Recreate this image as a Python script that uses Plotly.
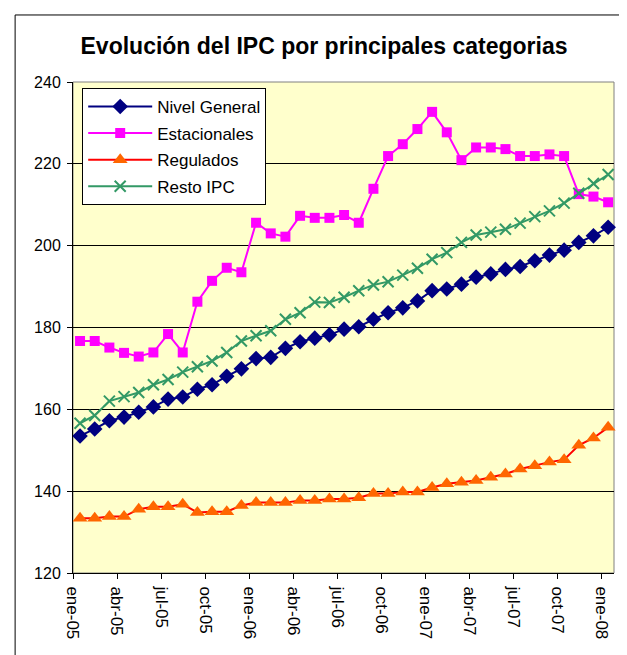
import plotly.graph_objects as go

months = ["ene","feb","mar","abr","may","jun","jul","ago","sep","oct","nov","dic"]
periodos = [f"{months[i % 12]}-{5 + i // 12:02d}" for i in range(37)]

nivel_general = [153.5, 155.2, 157.2, 158.1, 159.3, 160.6, 162.5, 163.0, 164.9, 166.0,
                 168.1, 169.9, 172.4, 172.7, 174.9, 176.5, 177.4, 178.2, 179.6, 180.2,
                 182.0, 183.6, 184.8, 186.5, 189.0, 189.4, 190.6, 192.3, 193.1, 194.2,
                 194.9, 196.3, 197.7, 198.9, 200.8, 202.4, 204.5]
estacionales = [176.7, 176.7, 175.1, 173.8, 172.9, 173.9, 178.4, 173.9, 186.3, 191.4,
                194.6, 193.5, 205.6, 203.0, 202.2, 207.3, 206.8, 206.8, 207.5, 205.6,
                213.9, 221.9, 224.8, 228.5, 232.7, 227.7, 220.9, 224.0, 224.0, 223.6,
                221.9, 221.9, 222.3, 221.9, 212.6, 212.0, 210.6]
regulados = [133.4, 133.4, 133.8, 133.8, 135.6, 136.2, 136.2, 136.8, 134.8, 135.0,
             135.0, 136.5, 137.2, 137.2, 137.2, 137.7, 137.7, 138.1, 138.1, 138.4,
             139.4, 139.4, 139.8, 139.8, 140.9, 141.8, 142.2, 142.6, 143.4, 144.2,
             145.4, 146.2, 147.1, 147.7, 151.2, 153.0, 155.6]
resto_ipc = [156.6, 158.5, 162.0, 163.1, 164.1, 166.0, 167.3, 169.1, 170.4, 171.8,
             173.9, 176.7, 178.0, 179.2, 182.0, 183.6, 186.2, 186.1, 187.4, 189.0,
             190.4, 191.2, 192.8, 194.5, 196.7, 198.3, 200.8, 202.6, 203.3, 204.0,
             205.5, 207.1, 208.5, 210.4, 212.8, 215.2, 217.4]

tick_labels = [periodos[i] for i in range(0, 37, 3)]
y_ticks = [120, 140, 160, 180, 200, 220, 240]

x = list(range(37))
font = "Arial, Liberation Sans, sans-serif"

fig = go.Figure()
fig.add_trace(go.Scatter(x=x, y=nivel_general, name="Nivel General", mode="lines+markers",
                         legendgroup="a",
                         line=dict(color="#000080", width=2),
                         marker=dict(symbol="diamond", size=12, color="#000080"),
                         cliponaxis=False))
fig.add_trace(go.Scatter(x=x, y=estacionales, name="Estacionales", mode="lines+markers",
                         legendgroup="b",
                         line=dict(color="#FF00FF", width=2),
                         marker=dict(symbol="square", size=10, color="#FF00FF"),
                         cliponaxis=False))
fig.add_trace(go.Scatter(x=x, y=regulados, name="Regulados", mode="lines+markers",
                         legendgroup="c",
                         line=dict(color="#FF0000", width=2),
                         marker=dict(symbol="triangle-up", size=13, color="#FF6600"),
                         cliponaxis=False))
fig.add_trace(go.Scatter(x=x, y=resto_ipc, name="Resto IPC", mode="lines+markers",
                         legendgroup="d",
                         line=dict(color="#339966", width=2),
                         marker=dict(symbol="x-thin-open", size=11,
                                     line=dict(color="#339966", width=2)),
                         cliponaxis=False))

tickpos = [i - 0.48 for i in range(0, 37, 3)]

W, H = 619, 647
fig.update_layout(
    width=W, height=H,
    margin=dict(l=65, r=13, t=74, b=82),
    paper_bgcolor="white",
    plot_bgcolor="#FFFFCC",
    font=dict(family=font, size=16, color="black"),
    title=dict(text="<b>Evolución del IPC por principales categorias</b>",
               x=(324 - 8) / W, xanchor="center", y=1 - (46 - 8) / H, yanchor="middle",
               yref="container", xref="container", font=dict(size=23, family=font)),
    showlegend=True,
    legend=dict(x=0.017, y=0.988, xanchor="left", yanchor="top",
                bgcolor="white", bordercolor="black", borderwidth=1,
                font=dict(size=17, family=font), tracegroupgap=1.5,
                itemwidth=64),
    xaxis=dict(range=[-0.48, 36.4], tickvals=tickpos, ticktext=tick_labels,
               tickangle=90, ticks="outside", ticklen=5, tickcolor="black",
               showline=True, linecolor="black", linewidth=1, showgrid=False,
               zeroline=False, tickfont=dict(size=17), ticklabelstandoff=4),
    yaxis=dict(range=[120, 240], tickvals=y_ticks, ticks="outside", ticklen=5,
               tickcolor="black", showline=True, linecolor="black", linewidth=1,
               showgrid=True, gridcolor="black", gridwidth=1, zeroline=False,
               tickfont=dict(size=16), ticklabelstandoff=3),
    shapes=[
        dict(type="rect", xref="paper", yref="paper", x0=0, x1=1, y0=0, y1=1,
             line=dict(color="#808080", width=1), layer="below"),
        dict(type="rect", xref="paper", yref="paper", x0=-0.107, x1=1.0148,
             y0=-0.2, y1=1.1365, line=dict(color="black", width=1)),
    ],
)

fig.write_html("out.html")
